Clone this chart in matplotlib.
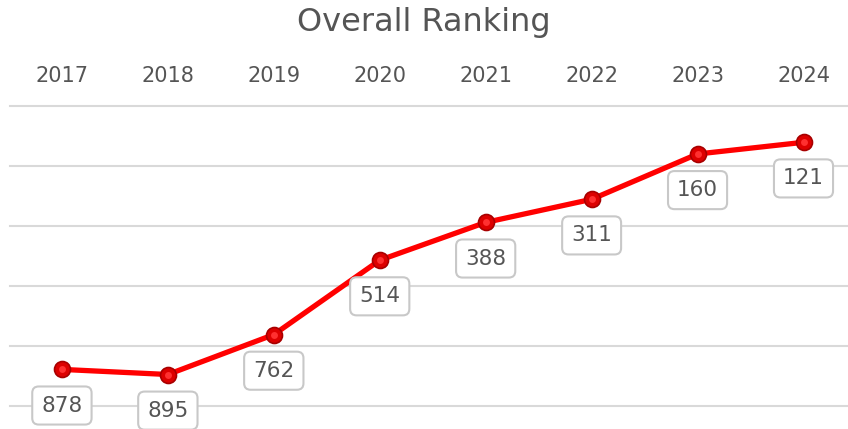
import matplotlib
matplotlib.use("Agg")
import matplotlib.pyplot as plt

# data
years = [2017, 2018, 2019, 2020, 2021, 2022, 2023, 2024]
ranking = [878, 895, 762, 514, 388, 311, 160, 121]
grid_levels = [0, 200, 400, 600, 800, 1000]

plt.rcParams['font.family'] = ['DejaVu Sans']
text_color = '#555555'

fig = plt.figure(figsize=(8.48, 4.29), dpi=100)
ax = fig.add_axes([10 / 848, 23 / 429, 838 / 848, 300 / 429])

ax.set_xlim(2016.51, 2024.42)
ax.set_ylim(1000, 0)

for g in grid_levels:
    ax.axhline(g, color='#d9d9d9', lw=1.5, zorder=0, clip_on=False)

ax.plot(years, ranking, color='#ff0000', lw=3.8, zorder=2, solid_capstyle='round')
ax.plot(years, ranking, ls='none', marker='o', ms=11.5, mfc='#dd0000',
        mec='#a80000', mew=1.2, zorder=3)
ax.plot(years, ranking, ls='none', marker='o', ms=5, mfc='#ff3030',
        mec='none', zorder=4)

for x, v in zip(years, ranking):
    ax.annotate(str(v), (x, v), xytext=(0, -26), textcoords='offset points',
                ha='center', va='center', fontsize=15.5, color=text_color,
                annotation_clip=False, zorder=5,
                bbox=dict(boxstyle='round,pad=0.42,rounding_size=0.3',
                          fc='white', ec='#c8c8c8', lw=1.5))

ax.xaxis.tick_top()
ax.set_xticks(years)
ax.set_xticklabels([str(y) for y in years], fontsize=15, color=text_color)
ax.tick_params(axis='x', length=0, pad=14.5)
ax.set_yticks([])
for s in ax.spines.values():
    s.set_visible(False)

fig.text(0.5, 1 - 23 / 429, 'Overall Ranking', ha='center', va='center',
         fontsize=23, color=text_color)

fig.savefig('out.png', dpi=100, facecolor='white')
